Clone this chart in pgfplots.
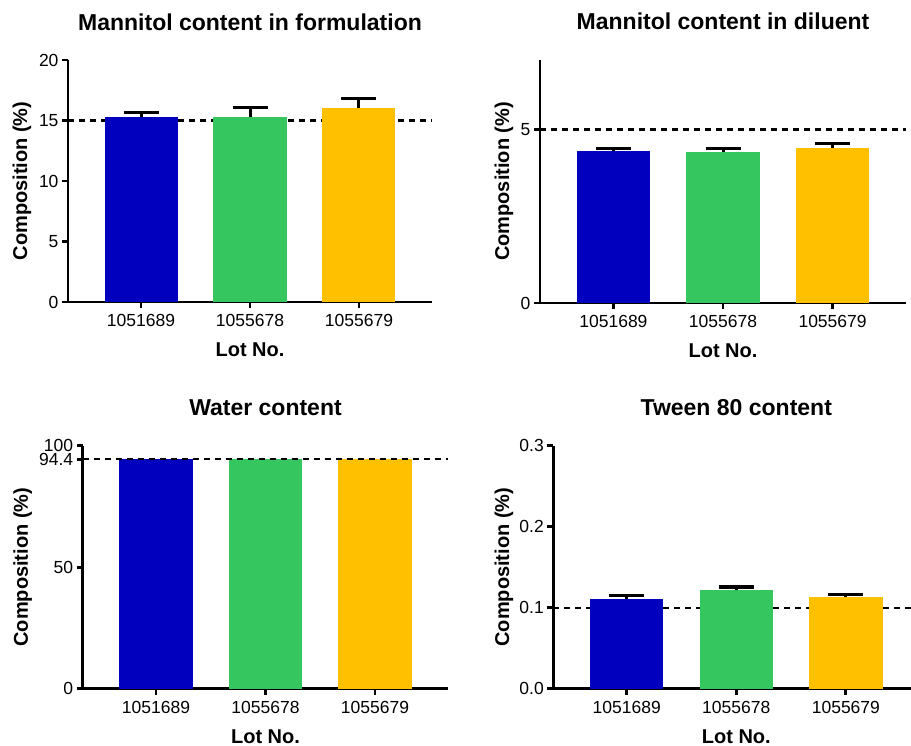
\documentclass[border=0pt]{standalone}
\usepackage{fontspec}
\setmainfont{Liberation Sans}
\usepackage{pgfplots}
\pgfplotsset{compat=1.18}
\definecolor{cblue}{RGB}{0,0,190}
\definecolor{cgreen}{RGB}{54,198,96}
\definecolor{cyellow}{RGB}{255,192,0}
\pgfplotsset{
  prism/.style={
    scale only axis,
    axis x line*=bottom, axis y line*=left,
    axis line style={line width=2.8pt, -},
    xmin=-0.67, xmax=2.67,
    xtick={0,1,2}, xticklabels={1051689,1055678,1055679},
    ymin=0,
    tick style={line width=2.8pt, black},
    major tick length=6pt,
    tick align=outside,
    minor tick num=0,
    ticklabel style={font=\fontsize{17.5}{17.5}\selectfont},
    xticklabel style={yshift=-3pt},
    /pgf/number format/assume math mode=true,
    xlabel={Lot No.}, ylabel={Composition (\%)},
    label style={font=\bfseries\fontsize{20}{20}\selectfont},
    xlabel style={at={(axis description cs:0.5,-0.2245)}, anchor=base},
    title style={font=\bfseries\fontsize{23}{23}\selectfont, at={(axis description cs:0.5,1.0988)}, anchor=base},
    clip=false,
  },
  pbarnoerr/.style={ybar, bar shift=0pt, bar width=0.67, draw=none, fill=#1},
  pbar/.style={ybar, bar shift=0pt, bar width=0.67, draw=none, fill=#1,
    error bars/.cd, y dir=plus, y explicit,
    error bar style={line width=3pt, black},
    error mark options={rotate=90, mark size=17.5pt, line width=3.2pt, black}},
  ref/.style={black, line width=2.2pt, dash pattern=on 6pt off 5pt, forget plot},
}
\begin{document}
\begin{tikzpicture}
% Panel 1
\begin{axis}[prism, at={(68pt,444pt)}, anchor=south west, width=364pt, height=242pt,
  ymax=20, ytick={0,5,10,15,20}, title={Mannitol content in formulation},
  ylabel style={at={(axis description cs:-0.1264,0.5)}, anchor=center}]
\addplot[ref] coordinates {(-0.67,15) (2.67,15)};
\addplot[pbar=cblue] coordinates {(0,15.3) +- (0,0.38)};
\addplot[pbar=cgreen] coordinates {(1,15.3) +- (0,0.76)};
\addplot[pbar=cyellow] coordinates {(2,16.06) +- (0,0.77)};
\end{axis}
% Panel 2
\begin{axis}[prism, at={(540pt,443pt)}, anchor=south west, width=366pt, height=243pt,
  ymax=7, ytick={0,5}, title={Mannitol content in diluent},
  ylabel style={at={(axis description cs:-0.0984,0.5)}, anchor=center}]
\addplot[ref] coordinates {(-0.67,5) (2.67,5)};
\addplot[pbar=cblue] coordinates {(0,4.37) +- (0,0.08)};
\addplot[pbar=cgreen] coordinates {(1,4.35) +- (0,0.11)};
\addplot[pbar=cyellow] coordinates {(2,4.47) +- (0,0.13)};
\end{axis}
% Panel 3
\begin{axis}[prism, at={(82.7pt,57.3pt)}, anchor=south west, width=365.6pt, height=243pt,
  ymax=100, ytick={0,50,94.4,100}, title={Water content},
  ylabel style={at={(axis description cs:-0.164,0.5)}, anchor=center}]
\addplot[pbarnoerr=cblue] coordinates {(0,94.4)};
\addplot[pbarnoerr=cgreen] coordinates {(1,94.4)};
\addplot[pbarnoerr=cyellow] coordinates {(2,94.4)};
\addplot[ref] coordinates {(-0.67,94.4) (2.67,94.4)};
\end{axis}
% Panel 4
\begin{axis}[prism, at={(553.3pt,57.3pt)}, anchor=south west, width=366pt, height=243pt,
  ymax=0.3, ytick={0,0.1,0.2,0.3}, title={Tween 80 content},
  yticklabel style={/pgf/number format/.cd, fixed, fixed zerofill, precision=1},
  ylabel style={at={(axis description cs:-0.1347,0.5)}, anchor=center}]
\addplot[ref] coordinates {(-0.67,0.1) (2.67,0.1)};
\addplot[pbar=cblue] coordinates {(0,0.111) +- (0,0.0045)};
\addplot[pbar=cgreen] coordinates {(1,0.1215) +- (0,0.004)};
\addplot[pbar=cyellow] coordinates {(2,0.1136) +- (0,0.0026)};
\end{axis}
\pgfresetboundingbox
\path[use as bounding box] (0pt,0pt) rectangle (911pt,746pt);
\end{tikzpicture}
\end{document}
